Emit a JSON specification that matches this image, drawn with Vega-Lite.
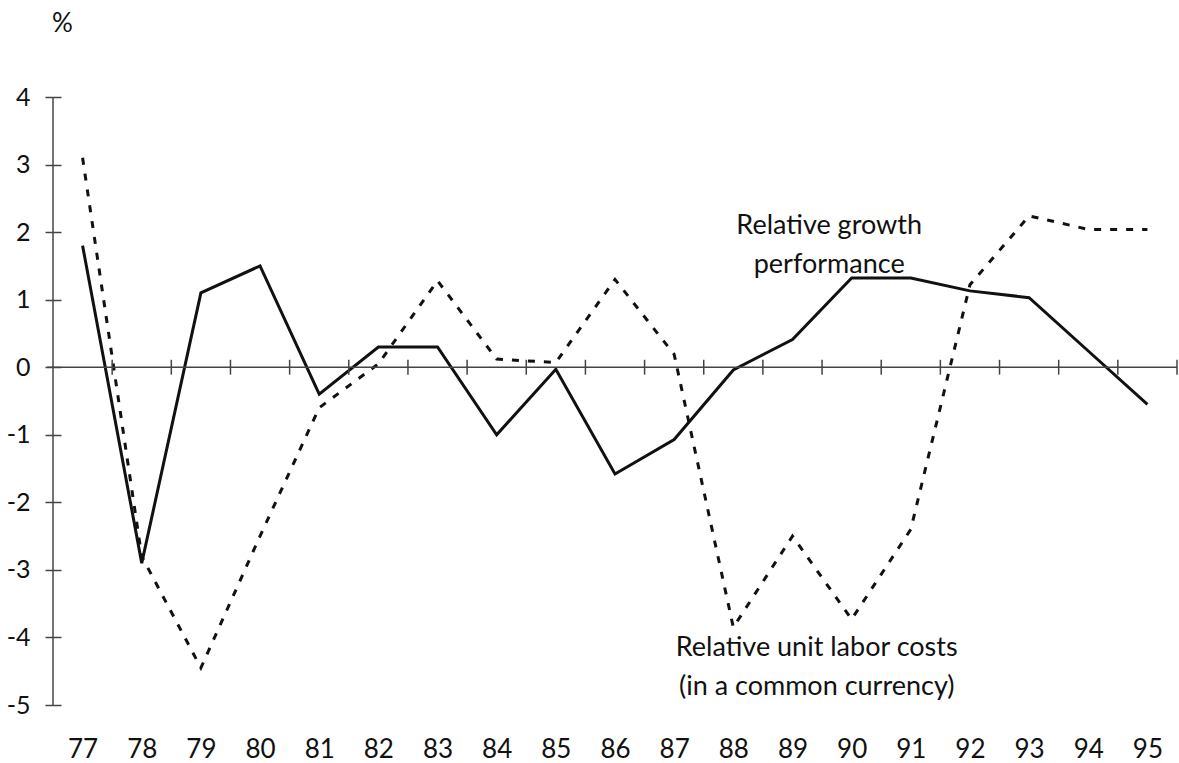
{
  "$schema": "https://vega.github.io/schema/vega-lite/v6.json",
  "autosize": {"type": "none"},
  "width": 1124,
  "height": 608,
  "padding": {"left": 53, "top": 97, "right": 2, "bottom": 58},
  "background": "white",
  "config": {
    "view": {"stroke": null},
    "font": "Lato",
    "axis": {"grid": false, "labelFont": "Lato", "titleFont": "Lato", "labelColor": "#111", "titleColor": "#111"}
  },
  "datasets": {
    "series": [
      {"year": 77, "growth": 1.8, "ulc": 3.1},
      {"year": 78, "growth": -2.9, "ulc": -2.8},
      {"year": 79, "growth": 1.1, "ulc": -4.45},
      {"year": 80, "growth": 1.5, "ulc": -2.5},
      {"year": 81, "growth": -0.4, "ulc": -0.6},
      {"year": 82, "growth": 0.3, "ulc": 0.05},
      {"year": 83, "growth": 0.3, "ulc": 1.28},
      {"year": 84, "growth": -1.0, "ulc": 0.12},
      {"year": 85, "growth": -0.03, "ulc": 0.07},
      {"year": 86, "growth": -1.58, "ulc": 1.3},
      {"year": 87, "growth": -1.07, "ulc": 0.19},
      {"year": 88, "growth": -0.04, "ulc": -3.85},
      {"year": 89, "growth": 0.41, "ulc": -2.5},
      {"year": 90, "growth": 1.32, "ulc": -3.73},
      {"year": 91, "growth": 1.32, "ulc": -2.4},
      {"year": 92, "growth": 1.13, "ulc": 1.22},
      {"year": 93, "growth": 1.03, "ulc": 2.24},
      {"year": 94, "growth": 0.24, "ulc": 2.04},
      {"year": 95, "growth": -0.55, "ulc": 2.04}
    ],
    "ticks": [
      {"pos": 77.5}, {"pos": 78.5}, {"pos": 79.5}, {"pos": 80.5}, {"pos": 81.5},
      {"pos": 82.5}, {"pos": 83.5}, {"pos": 84.5}, {"pos": 85.5}, {"pos": 86.5},
      {"pos": 87.5}, {"pos": 88.5}, {"pos": 89.5}, {"pos": 90.5}, {"pos": 91.5},
      {"pos": 92.5}, {"pos": 93.5}, {"pos": 94.5}, {"pos": 95.5}
    ],
    "labels": [
      {"x": 89.62, "y": 2.09, "text": "Relative growth"},
      {"x": 89.62, "y": 1.51, "text": "performance"},
      {"x": 89.41, "y": -4.16, "text": "Relative unit labor costs"},
      {"x": 89.41, "y": -4.74, "text": "(in a common currency)"}
    ]
  },
  "layer": [
    {
      "data": {"name": "series"},
      "mark": {"type": "line", "stroke": "#111", "strokeWidth": 3, "strokeDash": [7, 9], "clip": false},
      "encoding": {
        "x": {"field": "year", "type": "quantitative",
              "scale": {"domain": [76.5, 95.5], "nice": false, "zero": false},
              "axis": {"values": [77,78,79,80,81,82,83,84,85,86,87,88,89,90,91,92,93,94,95],
                       "format": "d", "domain": false, "ticks": false, "labelPadding": 31,
                       "labelFontSize": 26, "title": null, "labelFlush": false}},
        "y": {"field": "ulc", "type": "quantitative",
              "scale": {"domain": [-5, 4], "nice": false, "zero": false},
              "axis": {"values": [-5,-4,-3,-2,-1,0,1,2,3,4], "labelExpr": "'' + datum.value", "domain": false,
                       "tickSize": 16, "offset": -8, "tickColor": "#444", "tickWidth": 1.5,
                       "labelPadding": 15, "labelFontSize": 25,
                       "title": "%", "titleAngle": 0, "titleX": 1, "titleY": -74,
                       "titleAlign": "center", "titleBaseline": "middle",
                       "titleFontSize": 26, "titleFontWeight": "normal"}}
      }
    },
    {
      "data": {"name": "series"},
      "mark": {"type": "line", "stroke": "#111", "strokeWidth": 3, "clip": false},
      "encoding": {
        "x": {"field": "year", "type": "quantitative"},
        "y": {"field": "growth", "type": "quantitative"}
      }
    },
    {
      "data": {"values": [{}]},
      "mark": {"type": "rule", "stroke": "#444", "strokeWidth": 1.5},
      "encoding": {"x": {"datum": 76.5, "type": "quantitative"}}
    },
    {
      "data": {"values": [{}]},
      "mark": {"type": "rule", "stroke": "#444", "strokeWidth": 1.5, "clip": false},
      "encoding": {
        "x": {"datum": 76.4, "type": "quantitative"},
        "x2": {"datum": 95.5},
        "y": {"datum": 0, "type": "quantitative"}
      }
    },
    {
      "data": {"name": "ticks"},
      "mark": {"type": "rule", "stroke": "#444", "strokeWidth": 1.5, "clip": false},
      "encoding": {
        "x": {"field": "pos", "type": "quantitative"},
        "y": {"datum": -0.11, "type": "quantitative"},
        "y2": {"datum": 0.11}
      }
    },
    {
      "data": {"name": "labels"},
      "mark": {"type": "text", "font": "Lato", "fontSize": 27, "color": "#111", "align": "center", "baseline": "middle"},
      "encoding": {
        "x": {"field": "x", "type": "quantitative"},
        "y": {"field": "y", "type": "quantitative"},
        "text": {"field": "text"}
      }
    }
  ]
}
